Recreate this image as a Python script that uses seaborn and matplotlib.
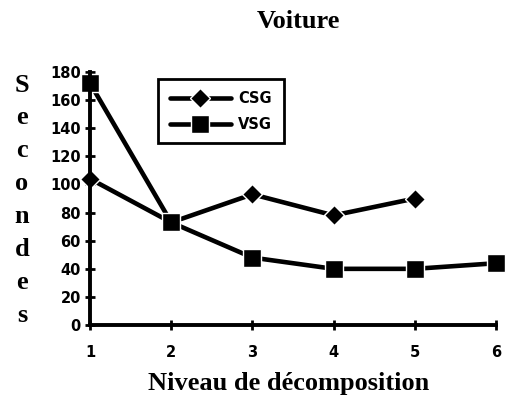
import matplotlib
matplotlib.use("Agg")
import matplotlib.pyplot as plt
import seaborn as sns
import pandas as pd

# Temps de calcul (secondes) par niveau de décomposition
niveaux_csg = [1, 2, 3, 4, 5]
csg = [104, 73, 93, 78, 90]
niveaux_vsg = [1, 2, 3, 4, 5, 6]
vsg = [172, 73, 48, 40, 40, 44]
y_ticks = [0, 20, 40, 60, 80, 100, 120, 140, 160, 180]
x_ticks = [1, 2, 3, 4, 5, 6]

sns.set_style("ticks")
plt.rcParams["font.family"] = ["DejaVu Sans"]
plt.rcParams["text.color"] = "black"
plt.rcParams["xtick.color"] = "black"
plt.rcParams["ytick.color"] = "black"

df_csg = pd.DataFrame({"niveau": niveaux_csg, "secondes": csg})
df_vsg = pd.DataFrame({"niveau": niveaux_vsg, "secondes": vsg})

fig = plt.figure(figsize=(5.10, 4.11), dpi=100)
ax = fig.add_axes([0.1765, 0.209, 0.796, 0.616])

sns.lineplot(data=df_csg, x="niveau", y="secondes", ax=ax, color="black",
             linewidth=3.3, marker="D", markersize=10, markeredgewidth=1,
             label="CSG", clip_on=False)
sns.lineplot(data=df_vsg, x="niveau", y="secondes", ax=ax, color="black",
             linewidth=3.3, marker="s", markersize=13, markeredgewidth=1,
             label="VSG", clip_on=False)

ax.set_xlim(1, 6)
ax.set_ylim(0, 180)
ax.set_xticks(x_ticks)
ax.set_yticks(y_ticks)
ax.set_xlabel("")
ax.set_ylabel("")

for side in ("top", "right"):
    ax.spines[side].set_visible(False)
for side in ("left", "bottom"):
    ax.spines[side].set_linewidth(2.8)
    ax.spines[side].set_color("black")

ax.tick_params(axis="both", direction="inout", length=7, width=2,
               color="black", labelcolor="black", labelsize=10.5)
ax.tick_params(axis="x", pad=11)
ax.tick_params(axis="y", pad=3)
for lbl in ax.get_xticklabels() + ax.get_yticklabels():
    lbl.set_fontweight("bold")

leg = ax.legend(loc="upper left", bbox_to_anchor=(0.15, 1.0),
                frameon=True, fancybox=False, framealpha=1,
                edgecolor="black", handlelength=4.2, handletextpad=0.5,
                labelspacing=0.75, borderpad=0.8,
                prop={"family": "DejaVu Sans", "weight": "bold", "size": 10.5})
leg.get_frame().set_linewidth(2)

serif = {"family": "Liberation Serif", "weight": "bold", "size": 19,
         "color": "black"}
fig.text(298 / 510, 1 - 21 / 411, "Voiture", ha="center", va="center", **serif)
fig.text(289 / 510, 1 - 383 / 411, "Niveau de décomposition",
         ha="center", va="center", **serif)

# Axe des ordonnées : lettres empilées verticalement
lettres = list("Secondes")
y0, y1 = 85, 315
for i, ch in enumerate(lettres):
    y = y0 + (y1 - y0) * i / (len(lettres) - 1)
    fig.text(22 / 510, 1 - y / 411, ch, ha="center", va="center", **serif)

fig.savefig("out.png", dpi=100)
